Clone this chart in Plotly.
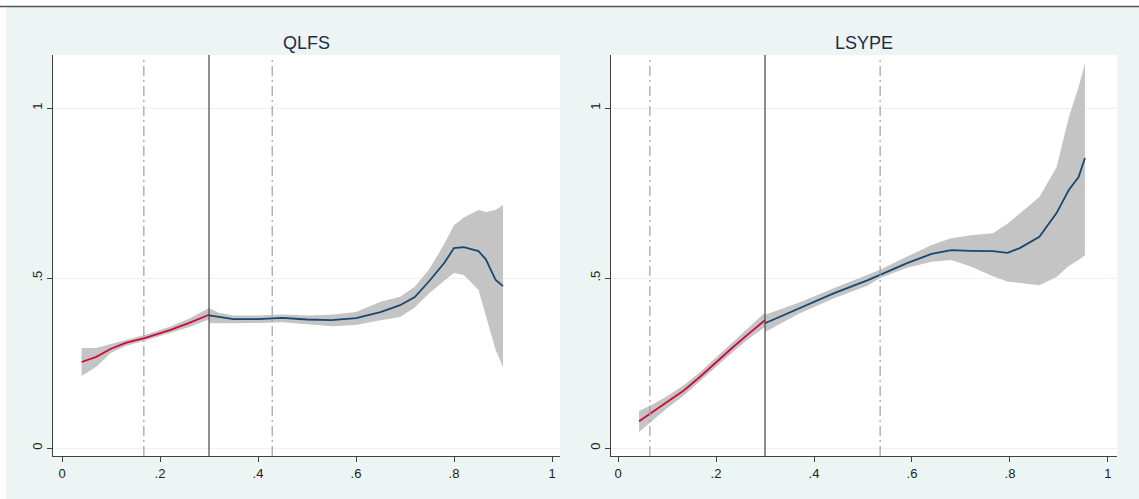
import plotly.graph_objects as go

# ---------------- data ----------------
panel_titles = ["QLFS", "LSYPE"]
cutoffs = [0.30, 0.30]
dash_lines_qlfs = [0.167, 0.429]
dash_lines_lsype = [0.065, 0.535]

x_ticks = [0, 0.2, 0.4, 0.6, 0.8, 1]
x_tick_labels = ["0", ".2", ".4", ".6", ".8", "1"]
y_ticks = [0, 0.5, 1]
y_tick_labels = ["0", ".5", "1"]

# QLFS, below cutoff (red)
q_left_x = [0.04, 0.07, 0.10, 0.13, 0.17, 0.22, 0.26, 0.30]
q_left_y = [0.253, 0.268, 0.292, 0.309, 0.324, 0.347, 0.368, 0.392]
q_left_hi = [0.294, 0.294, 0.306, 0.318, 0.333, 0.357, 0.381, 0.412]
q_left_lo = [0.212, 0.239, 0.280, 0.300, 0.316, 0.338, 0.356, 0.378]

# QLFS, above cutoff (blue)
q_right_x = [0.30, 0.32, 0.35, 0.40, 0.45, 0.50, 0.55, 0.60, 0.65, 0.69, 0.72,
             0.75, 0.78, 0.80, 0.82, 0.85, 0.865, 0.885, 0.90]
q_right_y = [0.390, 0.385, 0.379, 0.379, 0.383, 0.378, 0.376, 0.382, 0.400, 0.420,
             0.444, 0.492, 0.544, 0.588, 0.591, 0.579, 0.555, 0.494, 0.476]
q_right_hi = [0.412, 0.398, 0.390, 0.390, 0.393, 0.390, 0.392, 0.400, 0.430, 0.445,
              0.474, 0.527, 0.600, 0.655, 0.678, 0.700, 0.694, 0.700, 0.715]
q_right_lo = [0.367, 0.368, 0.368, 0.368, 0.370, 0.365, 0.358, 0.362, 0.376, 0.385,
              0.413, 0.456, 0.492, 0.515, 0.509, 0.465, 0.385, 0.288, 0.238]

# LSYPE, below cutoff (red)
l_left_x = [0.043, 0.07, 0.10, 0.135, 0.167, 0.20, 0.235, 0.27, 0.30]
l_left_y = [0.079, 0.105, 0.135, 0.170, 0.209, 0.252, 0.297, 0.340, 0.376]
l_left_hi = [0.109, 0.128, 0.152, 0.185, 0.223, 0.266, 0.311, 0.356, 0.398]
l_left_lo = [0.047, 0.080, 0.117, 0.155, 0.195, 0.238, 0.283, 0.325, 0.356]

# LSYPE, above cutoff (blue)
l_right_x = [0.30, 0.37, 0.44, 0.51, 0.535, 0.59, 0.64, 0.68, 0.72, 0.765, 0.795,
             0.82, 0.86, 0.895, 0.92, 0.94, 0.953]
l_right_y = [0.367, 0.412, 0.455, 0.494, 0.509, 0.544, 0.571, 0.582, 0.580, 0.579,
             0.574, 0.588, 0.621, 0.691, 0.759, 0.797, 0.853]
l_right_hi = [0.392, 0.428, 0.470, 0.510, 0.524, 0.563, 0.597, 0.617, 0.626, 0.632,
              0.660, 0.690, 0.738, 0.826, 0.973, 1.062, 1.132]
l_right_lo = [0.341, 0.396, 0.440, 0.478, 0.500, 0.530, 0.548, 0.553, 0.534, 0.505,
              0.490, 0.485, 0.479, 0.503, 0.535, 0.553, 0.567]

# ---------------- style ----------------
W, H = 1139, 499
MINT = "#EDF5F4"
BAND = "#C4C4C4"
RED = "#CC0A35"
BLUE = "#1A476F"
AXIS = "#404040"
FONT = "Liberation Sans, Arial, sans-serif"

fig = go.Figure()


def add_segment(xs, ys, lo, hi, color, xa, ya):
    fig.add_trace(go.Scatter(
        x=list(xs) + list(xs)[::-1], y=list(hi) + list(lo)[::-1],
        fill="toself", fillcolor=BAND, line=dict(width=0),
        mode="lines", hoverinfo="skip", showlegend=False, xaxis=xa, yaxis=ya))
    fig.add_trace(go.Scatter(
        x=xs, y=ys, mode="lines", line=dict(color=color, width=1.8),
        showlegend=False, xaxis=xa, yaxis=ya))


add_segment(q_left_x, q_left_y, q_left_lo, q_left_hi, RED, "x", "y")
add_segment(q_right_x, q_right_y, q_right_lo, q_right_hi, BLUE, "x", "y")
add_segment(l_left_x, l_left_y, l_left_lo, l_left_hi, RED, "x2", "y2")
add_segment(l_right_x, l_right_y, l_right_lo, l_right_hi, BLUE, "x2", "y2")

ydom = [1 - 456 / H, 1 - 55 / H]
xdom1 = [53 / W, 560 / W]
xdom2 = [611 / W, 1117 / W]

axis_common = dict(
    showline=True, linecolor=AXIS, linewidth=1.2, ticks="outside", ticklen=5,
    tickcolor=AXIS, tickwidth=1.2, zeroline=False,
    tickfont=dict(family=FONT, size=13, color="#222222"),
)

fig.update_layout(
    width=W, height=H, margin=dict(l=0, r=0, t=0, b=0),
    paper_bgcolor=MINT, plot_bgcolor="white",
    xaxis=dict(domain=xdom1, range=[-0.0184, 1.0163], anchor="y",
               tickvals=x_ticks, ticktext=x_tick_labels, showgrid=False, **axis_common),
    yaxis=dict(domain=ydom, range=[-0.0235, 1.156], anchor="x",
               tickvals=y_ticks, ticktext=y_tick_labels, tickangle=-90,
               showgrid=True, gridcolor="#EAF2F3", gridwidth=1, **axis_common),
    xaxis2=dict(domain=xdom2, range=[-0.0143, 1.0184], anchor="y2",
                tickvals=x_ticks, ticktext=x_tick_labels, showgrid=False, **axis_common),
    yaxis2=dict(domain=ydom, range=[-0.0235, 1.156], anchor="x2",
                tickvals=y_ticks, ticktext=y_tick_labels, tickangle=-90,
                showgrid=True, gridcolor="#EAF2F3", gridwidth=1, **axis_common),
)

shapes = []
# white margins and top rule
shapes.append(dict(type="rect", xref="paper", yref="paper", x0=0, x1=1,
                   y0=1 - 6 / H, y1=1, fillcolor="white", line=dict(width=0), layer="below"))
shapes.append(dict(type="rect", xref="paper", yref="paper", x0=0, x1=6 / W,
                   y0=0, y1=1, fillcolor="white", line=dict(width=0), layer="below"))
shapes.append(dict(type="line", xref="paper", yref="paper", x0=0, x1=1,
                   y0=1 - 6.5 / H, y1=1 - 6.5 / H, line=dict(color="#555555", width=1.5)))

for xa, cut, dls in [("x", cutoffs[0], dash_lines_qlfs), ("x2", cutoffs[1], dash_lines_lsype)]:
    ydomref = "y domain" if xa == "x" else "y2 domain"
    shapes.append(dict(type="line", xref=xa, yref=ydomref, x0=cut, x1=cut, y0=0, y1=1,
                       line=dict(color="#444444", width=1.2)))
    for d in dls:
        shapes.append(dict(type="line", xref=xa, yref=ydomref, x0=d, x1=d, y0=0, y1=0.99,
                           line=dict(color="#A0A0A0", width=1.2, dash="10px,4px,2px,4px")))
fig.update_layout(shapes=shapes)

for title, dom in zip(panel_titles, [xdom1, xdom2]):
    fig.add_annotation(text=title, xref="paper", yref="paper",
                       x=(dom[0] + dom[1]) / 2, y=1 - 43 / H,
                       xanchor="center", yanchor="middle", showarrow=False,
                       font=dict(family=FONT, size=18, color="#1E2B4A"))

fig.write_html("out.html", config={"displayModeBar": False},
               post_script="document.body.style.margin='0';document.body.style.overflow='hidden';")
